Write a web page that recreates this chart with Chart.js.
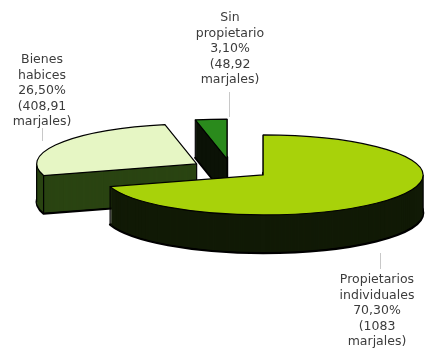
<!DOCTYPE html>
<html>
<head>
<meta charset="utf-8">
<script src="https://cdn.jsdelivr.net/npm/chart.js@4.4.1/dist/chart.umd.min.js"></script>
<style>
  html, body { margin: 0; padding: 0; background: #fff; }
  #wrap { width: 425px; height: 349px; }
</style>
</head>
<body>
<div id="wrap"><canvas id="chart"></canvas></div>
<script>
// --- Data ---
const categories = ['Propietarios individuales', 'Bienes habices', 'Sin propietario'];
const marjales = [1083, 408.91, 48.92];
const percents = [70.3, 26.5, 3.1];

const topColors = ['#a8d20a', '#e6f6c4', '#2a8a1c'];
const sideColors = ['#111a06', '#2a4412', '#0b1206'];

// --- 3D exploded pie drawn from the arc elements ---
const pie3d = {
  id: 'pie3d',
  beforeDatasetsDraw(chart, args, opts) {
    const ctx = chart.ctx;
    const arcs = chart.getDatasetMeta(0).data;

    opts.order.forEach(i => {
      const a = arcs[i];
      const { x, y, startAngle, endAngle, outerRadius } =
        a.getProps(['x', 'y', 'startAngle', 'endAngle', 'outerRadius'], true);
      const mid = (startAngle + endAngle) / 2;
      const cx = x + Math.cos(mid) * outerRadius * opts.explode;
      const cy = y + Math.sin(mid) * outerRadius * opts.explode;
      const toScreen = (px, py, dy) => [px, y + (py - y) * opts.tilt + dy];

      const wedge = dy => {
        ctx.beginPath();
        ctx.save();
        ctx.translate(0, y + dy);
        ctx.scale(1, opts.tilt);
        ctx.translate(0, -y);
        ctx.moveTo(cx, cy);
        ctx.arc(cx, cy, outerRadius, startAngle, endAngle);
        ctx.closePath();
        ctx.restore();
      };

      ctx.save();
      ctx.lineJoin = 'round';
      ctx.strokeStyle = '#000';

      // bottom outline first, then the extrusion layers on top of it
      ctx.fillStyle = sideColors[i];
      ctx.lineWidth = 2.4;
      wedge(opts.depth);
      ctx.fill();
      ctx.stroke();
      for (let d = opts.depth - 1; d >= 1; d--) {
        wedge(d);
        ctx.fill();
      }

      // vertical edges
      ctx.lineWidth = 1.2;
      const pts = [[cx, cy],
        [cx + Math.cos(startAngle) * outerRadius, cy + Math.sin(startAngle) * outerRadius],
        [cx + Math.cos(endAngle) * outerRadius, cy + Math.sin(endAngle) * outerRadius]];
      [0, Math.PI, 2 * Math.PI].forEach(t => {
        if (t > startAngle && t < endAngle) {
          pts.push([cx + Math.cos(t) * outerRadius, cy + Math.sin(t) * outerRadius]);
        }
      });
      pts.forEach(p => {
        const [sx, sy] = toScreen(p[0], p[1], 0);
        ctx.beginPath();
        ctx.moveTo(sx, sy);
        ctx.lineTo(sx, sy + opts.depth);
        ctx.stroke();
      });

      // top face
      wedge(0);
      ctx.fillStyle = topColors[i];
      ctx.fill();
      ctx.stroke();
      ctx.restore();
    });
    return false;
  }
};

// --- Labels ---
const pieLabels = {
  id: 'pieLabels',
  afterDraw(chart, args, opts) {
    const ctx = chart.ctx;
    ctx.save();
    ctx.font = '12.5px "DejaVu Sans", Verdana, sans-serif';
    ctx.fillStyle = '#3c3c3c';
    ctx.textAlign = 'center';
    ctx.textBaseline = 'middle';
    categories.forEach((name, i) => {
      const pos = opts.positions[i];
      const lines = name.split(' ').concat([
        percents[i].toFixed(2).replace('.', ',') + '%',
        '(' + String(marjales[i]).replace('.', ','),
        'marjales)'
      ]);
      lines.forEach((t, k) => ctx.fillText(t, pos.x, pos.y + k * opts.lineHeight));

      ctx.strokeStyle = '#c8c8c8';
      ctx.lineWidth = 1;
      ctx.beginPath();
      ctx.moveTo(pos.lx + 0.5, pos.ly0);
      ctx.lineTo(pos.lx + 0.5, pos.ly1);
      ctx.stroke();
    });
    ctx.restore();
  }
};

new Chart(document.getElementById('chart'), {
  type: 'pie',
  data: {
    labels: categories,
    datasets: [{
      data: marjales,
      backgroundColor: topColors,
      borderWidth: 0
    }]
  },
  options: {
    responsive: true,
    maintainAspectRatio: false,
    animation: false,
    layout: { padding: { left: 71, right: 34, top: 9, bottom: 20 } },
    plugins: {
      legend: { display: false },
      tooltip: { enabled: false },
      pie3d: { order: [2, 1, 0], explode: 0.25, tilt: 0.25, depth: 38 },
      pieLabels: {
        lineHeight: 15.5,
        positions: [
          { x: 377, y: 280, lx: 380, ly0: 253, ly1: 269 },
          { x: 42, y: 60, lx: 42, ly0: 128, ly1: 141 },
          { x: 230, y: 18, lx: 229, ly0: 92, ly1: 117 }
        ]
      }
    }
  },
  plugins: [pie3d, pieLabels]
});
</script>
</body>
</html>
